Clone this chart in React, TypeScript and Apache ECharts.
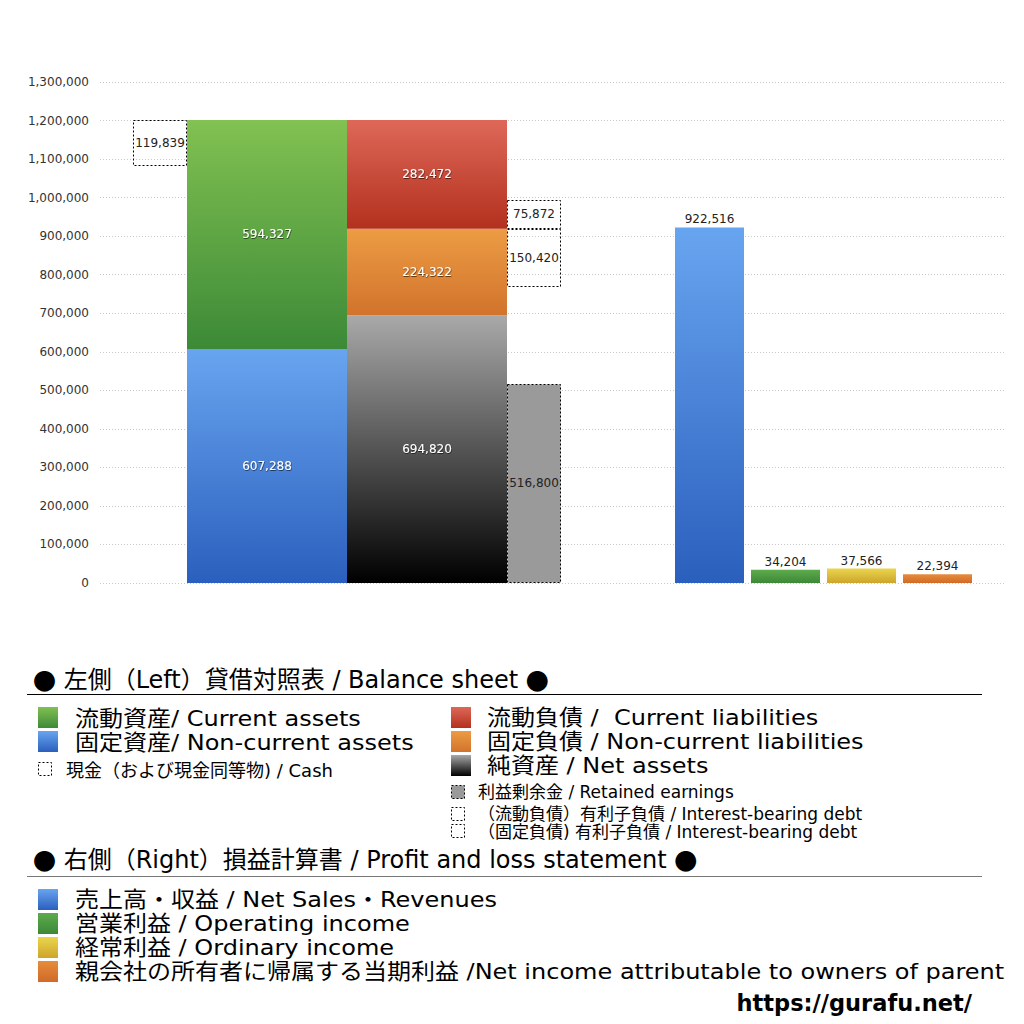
import React, { useEffect, useRef } from "react";
import * as echarts from "echarts";

// ---- Data ----
const assetNames = ["固定資産", "流動資産"]; // bottom -> top
const assetValues = [607288, 594327];
const cashValue = 119839;
const liabilityNames = ["純資産", "固定負債", "流動負債"]; // bottom -> top
const liabilityValues = [694820, 224322, 282472];
const retainedEarnings = 516800;
const debtNonCurrent = 150420;
const debtCurrent = 75872;
const plNames = ["売上高・収益", "営業利益", "経常利益", "親会社の所有者に帰属する当期利益"];
const plValues = [922516, 34204, 37566, 22394];
const yMin = 0;
const yMax = 1300000;
const yInterval = 100000;

// ---- Layout (horizontal positions in grid pixels) ----
const X_CASH = [33, 87];
const X_ASSETS = [87, 247];
const X_LIAB = [247, 407];
const X_SIDE = [407, 461];
const X_PL = [
  [575, 644],
  [651, 720],
  [727, 796],
  [803, 872],
];

const FONT = '"DejaVu Sans", "Noto Sans CJK JP", sans-serif';
const CJK = '"Noto Sans CJK JP", sans-serif';

const grad = (top: string, bottom: string) =>
  new echarts.graphic.LinearGradient(0, 0, 0, 1, [
    { offset: 0, color: top },
    { offset: 1, color: bottom },
  ]);

const C = {
  blue: ["#68a5f0", "#2b5fbd"],
  green: ["#82c152", "#3c8a37"],
  red: ["#de6858", "#b3301e"],
  orange: ["#ec9c44", "#d2732c"],
  black: ["#a9a9a9", "#000000"],
  plGreen: ["#5dab4c", "#3d8838"],
  yellow: ["#ebd54e", "#cca52a"],
  plOrange: ["#e68c3c", "#d06a28"],
};

type BoxOpt = {
  fill: any;
  dashed?: boolean;
  label: "inside" | "top" | "none";
  labelColor: string;
  fontSize: number;
  shadow?: boolean;
};

function boxSeries(name: string, x: number[], y0: number, y1: number, value: number, o: BoxOpt) {
  return {
    type: "custom",
    name,
    data: [[x[0], y0, x[1], y1, value]],
    encode: { x: [0, 2], y: [1, 3] },
    renderItem: (_p: any, api: any) => {
      const tl = api.coord([api.value(0), api.value(3)]);
      const br = api.coord([api.value(2), api.value(1)]);
      const w = br[0] - tl[0];
      const h = br[1] - tl[1];
      const children: any[] = [
        {
          type: "rect",
          shape: o.dashed
            ? { x: Math.round(tl[0]) + 0.5, y: Math.round(tl[1]) + 0.5, width: Math.round(w) - 1, height: Math.round(h) - 1 }
            : { x: tl[0], y: tl[1], width: w, height: h },
          style: o.dashed
            ? { fill: o.fill, stroke: "#000", lineWidth: 1, lineDash: [2, 2] }
            : { fill: o.fill },
        },
      ];
      const v = api.value(4) as number;
      if (o.label !== "none") {
        const txt = v.toLocaleString("en-US");
        const style: any = {
          text: txt,
          x: tl[0] + w / 2,
          y: o.label === "inside" ? tl[1] + h / 2 : tl[1] - 8,
          align: "center",
          verticalAlign: "middle",
          fill: o.labelColor,
          font: `${o.fontSize}px ${FONT}`,
        };
        if (o.shadow) {
          style.textShadowColor = "rgba(0,0,0,0.7)";
          style.textShadowBlur = 1;
          style.textShadowOffsetX = 0.5;
          style.textShadowOffsetY = 0.8;
        }
        children.push({ type: "text", style, z2: 10 });
      }
      return { type: "group", children };
    },
    z: o.dashed ? 3 : 2,
  };
}

function buildSeries() {
  const s: any[] = [];
  const assetFills = [grad(C.blue[0], C.blue[1]), grad(C.green[0], C.green[1])];
  let base = 0;
  assetValues.forEach((v, i) => {
    s.push(boxSeries(assetNames[i], X_ASSETS, base, base + v, v, {
      fill: assetFills[i], label: "inside", labelColor: "#ffffff", fontSize: 12, shadow: true,
    }));
    base += v;
  });
  const assetTotal = base;
  s.push(boxSeries("現金", X_CASH, assetTotal - cashValue, assetTotal, cashValue, {
    fill: "rgba(255,255,255,0)", dashed: true, label: "inside", labelColor: "#222", fontSize: 12,
  }));
  const liabFills = [grad(C.black[0], C.black[1]), grad(C.orange[0], C.orange[1]), grad(C.red[0], C.red[1])];
  base = 0;
  const tops: number[] = [];
  liabilityValues.forEach((v, i) => {
    s.push(boxSeries(liabilityNames[i], X_LIAB, base, base + v, v, {
      fill: liabFills[i], label: "inside", labelColor: "#ffffff", fontSize: 12, shadow: true,
    }));
    base += v;
    tops.push(base);
  });
  s.push(boxSeries("利益剰余金", X_SIDE, 0, retainedEarnings, retainedEarnings, {
    fill: "#9a9a9a", dashed: true, label: "inside", labelColor: "#222", fontSize: 12,
  }));
  const ncTop = tops[1];
  s.push(boxSeries("固定負債 有利子負債", X_SIDE, ncTop - debtNonCurrent, ncTop, debtNonCurrent, {
    fill: "rgba(255,255,255,0)", dashed: true, label: "inside", labelColor: "#222", fontSize: 12,
  }));
  s.push(boxSeries("流動負債 有利子負債", X_SIDE, ncTop, ncTop + debtCurrent, debtCurrent, {
    fill: "rgba(255,255,255,0)", dashed: true, label: "inside", labelColor: "#222", fontSize: 12,
  }));
  const plFills = [
    grad(C.blue[0], C.blue[1]),
    grad(C.plGreen[0], C.plGreen[1]),
    grad(C.yellow[0], C.yellow[1]),
    grad(C.plOrange[0], C.plOrange[1]),
  ];
  plValues.forEach((v, i) => {
    s.push(boxSeries(plNames[i], X_PL[i], 0, v, v, {
      fill: plFills[i], label: "top", labelColor: "#222", fontSize: 12,
    }));
  });
  return s;
}

function legendGraphics() {
  const g: any[] = [];
  const BIG = 22;
  const BIG_SX = 24 / 22; // horizontal stretch to match the reference's wider glyphs
  const big = `${BIG}px ${FONT}`;
  const small = `17px ${FONT}`;
  const text = (x: number, y: number, t: string, font: string, size: number, extra: any = {}, sx = 1) =>
    g.push({
      type: "text",
      x,
      y,
      scaleX: sx,
      style: { text: t, font, fill: "#000", verticalAlign: "middle", lineHeight: size, ...extra },
    });
  const item = (x: number, y: number, t: string) => text(x, y, t, big, BIG, {}, BIG_SX);
  const sq = (x: number, y: number, w: number, h: number, fill: any, dashed = false) =>
    g.push({
      type: "rect",
      shape: dashed ? { x: x + 0.5, y: y + 0.5, width: w - 1, height: h - 1 } : { x, y, width: w, height: h },
      style: dashed ? { fill, stroke: "#000", lineWidth: 1, lineDash: [2, 2] } : { fill },
    });
  const header = (y: number, t: string) =>
    g.push({
      type: "text",
      x: 33,
      y,
      style: {
        text: `{d|●} ${t} {d|●}`,
        font: `24px ${FONT}`,
        fill: "#000",
        verticalAlign: "middle",
        lineHeight: 23,
        rich: { d: { fontFamily: CJK, fontSize: 23, fill: "#000" } },
      },
    });

  // Section 1: balance sheet
  header(680, "左側（Left）貸借対照表 / Balance sheet");
  g.push({ type: "line", shape: { x1: 27, y1: 694.5, x2: 982, y2: 694.5 }, style: { stroke: "#000", lineWidth: 1 } });
  sq(38, 707, 20, 21, grad(C.green[0], C.green[1]));
  item(75, 718, "流動資産/ Current assets");
  sq(38, 731, 20, 21, grad(C.blue[0], C.blue[1]));
  item(75, 742, "固定資産/ Non-current assets");
  sq(38, 762, 14, 14, "rgba(255,255,255,0)", true);
  text(66, 770, "現金（および現金同等物) / Cash", `18px ${FONT}`, 18);

  sq(451, 707, 20, 21, grad(C.red[0], C.red[1]));
  item(487, 717, "流動負債 /  Current liabilities");
  sq(451, 731, 20, 21, grad(C.orange[0], C.orange[1]));
  item(487, 741, "固定負債 / Non-current liabilities");
  sq(451, 755, 20, 21, grad(C.black[0], C.black[1]));
  item(487, 765, "純資産 / Net assets");
  sq(451, 785, 14, 14, "#9a9a9a", true);
  text(478, 792, "利益剰余金 / Retained earnings", small, 17);
  sq(451, 807, 14, 14, "rgba(255,255,255,0)", true);
  text(478, 814, "（流動負債）有利子負債 / Interest-bearing debt", small, 17);
  sq(451, 824, 14, 14, "rgba(255,255,255,0)", true);
  text(478, 832, "（固定負債) 有利子負債 / Interest-bearing debt", small, 17);

  // Section 2: profit and loss
  header(860, "右側（Right）損益計算書 / Profit and loss statement");
  g.push({ type: "line", shape: { x1: 27, y1: 876.5, x2: 982, y2: 876.5 }, style: { stroke: "#777", lineWidth: 1.2 } });
  sq(38, 889, 20, 21, grad(C.blue[0], C.blue[1]));
  item(75, 899, "売上高・収益 / Net Sales・Revenues");
  sq(38, 913, 20, 21, grad(C.plGreen[0], C.plGreen[1]));
  item(75, 923, "営業利益 / Operating income");
  sq(38, 937, 20, 21, grad(C.yellow[0], C.yellow[1]));
  item(75, 947, "経常利益 / Ordinary income");
  sq(38, 961, 20, 21, grad(C.plOrange[0], C.plOrange[1]));
  item(75, 971, "親会社の所有者に帰属する当期利益 /Net income attributable to owners of parent");

  text(972, 1003, "https://gurafu.net/", `bold 22.5px ${FONT}`, 22, { align: "right" });
  return g;
}

export default function App() {
  const ref = useRef<HTMLDivElement>(null);
  useEffect(() => {
    if (!ref.current) return;
    const chart = echarts.init(ref.current, undefined, { renderer: "svg" });
    chart.setOption({
      animation: false,
      backgroundColor: "#ffffff",
      grid: { left: 100, right: 19, top: 82, bottom: 441, containLabel: false },
      xAxis: {
        type: "value",
        min: 0,
        max: 905,
        show: false,
        splitLine: { show: false },
      },
      yAxis: {
        type: "value",
        min: yMin,
        max: yMax,
        interval: yInterval,
        axisLine: { show: false },
        axisTick: { show: false },
        axisLabel: {
          margin: 11,
          color: "#333",
          fontSize: 12,
          fontFamily: FONT,
          formatter: (v: number) => v.toLocaleString("en-US"),
        },
        splitLine: { show: true, lineStyle: { color: "#c8c8c8", type: [1, 2], width: 1 } },
      },
      series: buildSeries(),
      graphic: legendGraphics(),
    });
    return () => chart.dispose();
  }, []);
  return (
    <div
      ref={ref}
      style={{ position: "fixed", left: 0, top: 0, width: 1024, height: 1024, background: "#fff" }}
    />
  );
}
